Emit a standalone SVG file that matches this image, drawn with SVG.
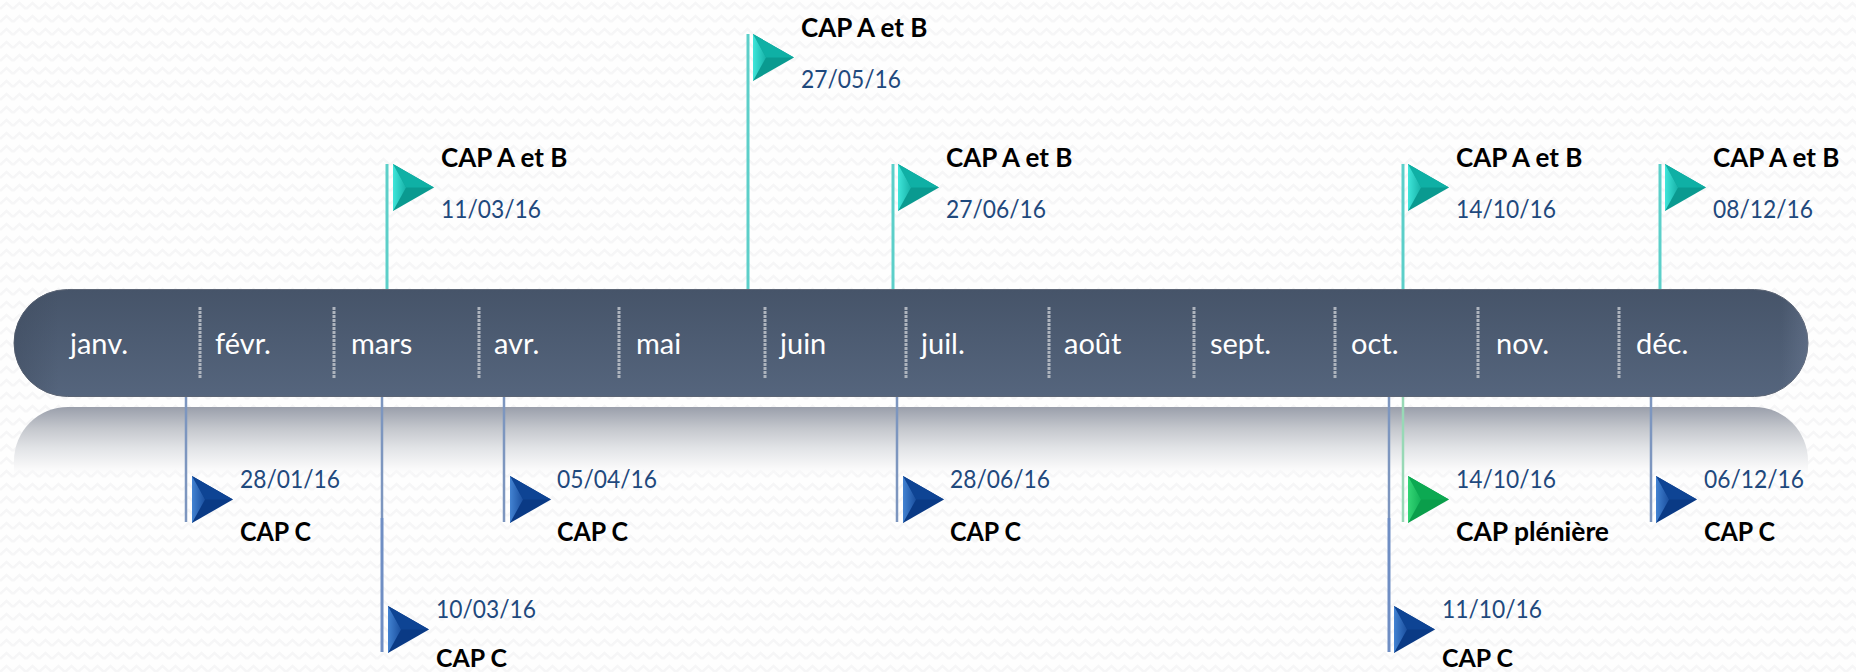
<svg xmlns="http://www.w3.org/2000/svg" width="1856" height="672" viewBox="0 0 1856 672">
<style>
text{font-family:"Lato","Liberation Sans",sans-serif}
.m{font-size:29px;fill:#fff}
.t{font-size:26px;font-weight:700;fill:#000}
.c{font-size:25px;font-weight:700;fill:#000}
.d{font-size:25px;fill:#1f497d}
.sep{stroke:#aeb4bd;stroke-width:3;stroke-dasharray:3 1}
.pt{stroke:#5ccfc9;stroke-width:3}
.pb{stroke:#7d96bf;stroke-width:2.500}
.pg{stroke:#98d9b6;stroke-width:2.500}
.pd{stroke:#6f8ec4;stroke-width:3}
</style>
<defs>
<pattern id="wave" width="13" height="13" patternUnits="userSpaceOnUse"><path d="M0 9L6.500 3L13 9" fill="none" stroke="#f6f6f7" stroke-width="2.500"/></pattern>
<linearGradient id="bar" x1="0" y1="0" x2="0" y2="1"><stop offset="0" stop-color="#465469"/><stop offset="1" stop-color="#55657d"/></linearGradient>
<linearGradient id="ends" x1="0" y1="0" x2="1" y2="0"><stop offset="0" stop-color="#3b475a" stop-opacity=".4"/><stop offset=".025" stop-color="#3b475a" stop-opacity="0"/><stop offset=".985" stop-color="#7f8da8" stop-opacity="0"/><stop offset="1" stop-color="#7f8da8" stop-opacity=".3"/></linearGradient>
<linearGradient id="refl" x1="0" y1="0" x2="0" y2="1"><stop offset="0" stop-color="#9a9fab"/><stop offset=".3" stop-color="#c3c6cc"/><stop offset=".6" stop-color="#e2e4e7"/><stop offset=".85" stop-color="#f6f6f7"/><stop offset="1" stop-color="#fbfbfc" stop-opacity="0"/></linearGradient>
<linearGradient id="tl" x1="0" y1="0" x2="1" y2="0"><stop offset="0" stop-color="#3fe6da"/><stop offset="1" stop-color="#17b2a8"/></linearGradient>
<linearGradient id="bl" x1="0" y1="0" x2="1" y2="0"><stop offset="0" stop-color="#4383d2"/><stop offset="1" stop-color="#1a4f9f"/></linearGradient>
<linearGradient id="gl" x1="0" y1="0" x2="1" y2="0"><stop offset="0" stop-color="#35d676"/><stop offset="1" stop-color="#12b157"/></linearGradient>
<g id="ft"><path d="M0 0L41 23.500L0 47Z" fill="#0a9a90"/><path d="M0 0L41 23.500L13 23.500Z" fill="#0fb0a5"/><path d="M0 0L13 23.500L0 47Z" fill="url(#tl)"/></g>
<g id="fb"><path d="M0 0L41 23.500L0 47Z" fill="#0a3a85"/><path d="M0 0L41 23.500L13 23.500Z" fill="#0e4494"/><path d="M0 0L13 23.500L0 47Z" fill="url(#bl)"/></g>
<g id="fg"><path d="M0 0L41 23.500L0 47Z" fill="#0a9e4b"/><path d="M0 0L41 23.500L13 23.500Z" fill="#0ca952"/><path d="M0 0L13 23.500L0 47Z" fill="url(#gl)"/></g>
</defs>
<rect width="1856" height="672" fill="#fefefe"/>
<rect width="1856" height="672" fill="url(#wave)"/>
<g id="reflection"><path d="M14 476V461A54 54 0 0 1 68 407H1754A54 54 0 0 1 1808 461V476Z" fill="url(#refl)"/></g>
<g id="timeline"><rect x="14" y="289.500" width="1794" height="107" rx="53.500" fill="url(#bar)" stroke="#5d6676" stroke-width="1"/><rect x="14" y="289.500" width="1794" height="107" rx="53.500" fill="url(#ends)"/></g>
<g id="connectors">
<path class="pt" d="M387 164V289M748 34V289M893 164V289M1403 164V289M1660 164V289"/>
<path class="pb" d="M186 397V522M382 397V518M504 397V522M897 397V522M1389 397V518M1651 397V522"/>
<path class="pd" d="M382 518V652M1389 518V652"/>
<path class="pg" d="M1403 397V522"/>
</g>
<g id="separators"><path class="sep" d="M200 307V378M334 307V378M479 307V378M619 307V378M765 307V378M906 307V378M1049 307V378M1194 307V378M1335 307V378M1478 307V378M1619 307V378"/></g>
<g id="month-jan"><text class="m" x="70" y="354">janv.</text></g>
<g id="month-feb"><text class="m" x="215" y="354">févr.</text></g>
<g id="month-mar"><text class="m" x="351" y="354">mars</text></g>
<g id="month-apr"><text class="m" x="494" y="354">avr.</text></g>
<g id="month-may"><text class="m" x="636" y="354">mai</text></g>
<g id="month-jun"><text class="m" x="780" y="354">juin</text></g>
<g id="month-jul"><text class="m" x="921" y="354">juil.</text></g>
<g id="month-aug"><text class="m" x="1064" y="354">août</text></g>
<g id="month-sep"><text class="m" x="1210" y="354">sept.</text></g>
<g id="month-oct"><text class="m" x="1351" y="354">oct.</text></g>
<g id="month-nov"><text class="m" x="1496" y="354">nov.</text></g>
<g id="month-dec"><text class="m" x="1636" y="354">déc.</text></g>
<g id="f-1103"><use href="#ft" x="393" y="164"/><text class="t" x="441" y="167">CAP A et B</text><text class="d" x="441" y="218" textLength="100" lengthAdjust="spacingAndGlyphs">11/03/16</text></g>
<g id="f-2705"><use href="#ft" x="753" y="34"/><text class="t" x="801" y="37">CAP A et B</text><text class="d" x="801" y="88" textLength="100" lengthAdjust="spacingAndGlyphs">27/05/16</text></g>
<g id="f-2706"><use href="#ft" x="898" y="164"/><text class="t" x="946" y="167">CAP A et B</text><text class="d" x="946" y="218" textLength="100" lengthAdjust="spacingAndGlyphs">27/06/16</text></g>
<g id="f-1410a"><use href="#ft" x="1408" y="164"/><text class="t" x="1456" y="167">CAP A et B</text><text class="d" x="1456" y="218" textLength="100" lengthAdjust="spacingAndGlyphs">14/10/16</text></g>
<g id="f-0812"><use href="#ft" x="1665" y="164"/><text class="t" x="1713" y="167">CAP A et B</text><text class="d" x="1713" y="218" textLength="100" lengthAdjust="spacingAndGlyphs">08/12/16</text></g>
<g id="f-2801"><use href="#fb" x="192" y="476"/><text class="d" x="240" y="488" textLength="100" lengthAdjust="spacingAndGlyphs">28/01/16</text><text class="t" x="240" y="541" textLength="71" lengthAdjust="spacingAndGlyphs">CAP C</text></g>
<g id="f-1003"><use href="#fb" x="388" y="606"/><text class="d" x="436" y="618" textLength="100" lengthAdjust="spacingAndGlyphs">10/03/16</text><text class="c" x="436" y="667" textLength="71" lengthAdjust="spacingAndGlyphs">CAP C</text></g>
<g id="f-0504"><use href="#fb" x="510" y="476"/><text class="d" x="557" y="488" textLength="100" lengthAdjust="spacingAndGlyphs">05/04/16</text><text class="t" x="557" y="541" textLength="71" lengthAdjust="spacingAndGlyphs">CAP C</text></g>
<g id="f-2806"><use href="#fb" x="903" y="476"/><text class="d" x="950" y="488" textLength="100" lengthAdjust="spacingAndGlyphs">28/06/16</text><text class="t" x="950" y="541" textLength="71" lengthAdjust="spacingAndGlyphs">CAP C</text></g>
<g id="f-1410b"><use href="#fg" x="1408" y="476"/><text class="d" x="1456" y="488" textLength="100" lengthAdjust="spacingAndGlyphs">14/10/16</text><text class="t" x="1456" y="541" textLength="153" lengthAdjust="spacingAndGlyphs">CAP plénière</text></g>
<g id="f-1110"><use href="#fb" x="1394" y="606"/><text class="d" x="1442" y="618" textLength="100" lengthAdjust="spacingAndGlyphs">11/10/16</text><text class="c" x="1442" y="667" textLength="71" lengthAdjust="spacingAndGlyphs">CAP C</text></g>
<g id="f-0612"><use href="#fb" x="1656" y="476"/><text class="d" x="1704" y="488" textLength="100" lengthAdjust="spacingAndGlyphs">06/12/16</text><text class="t" x="1704" y="541" textLength="71" lengthAdjust="spacingAndGlyphs">CAP C</text></g>
</svg>
